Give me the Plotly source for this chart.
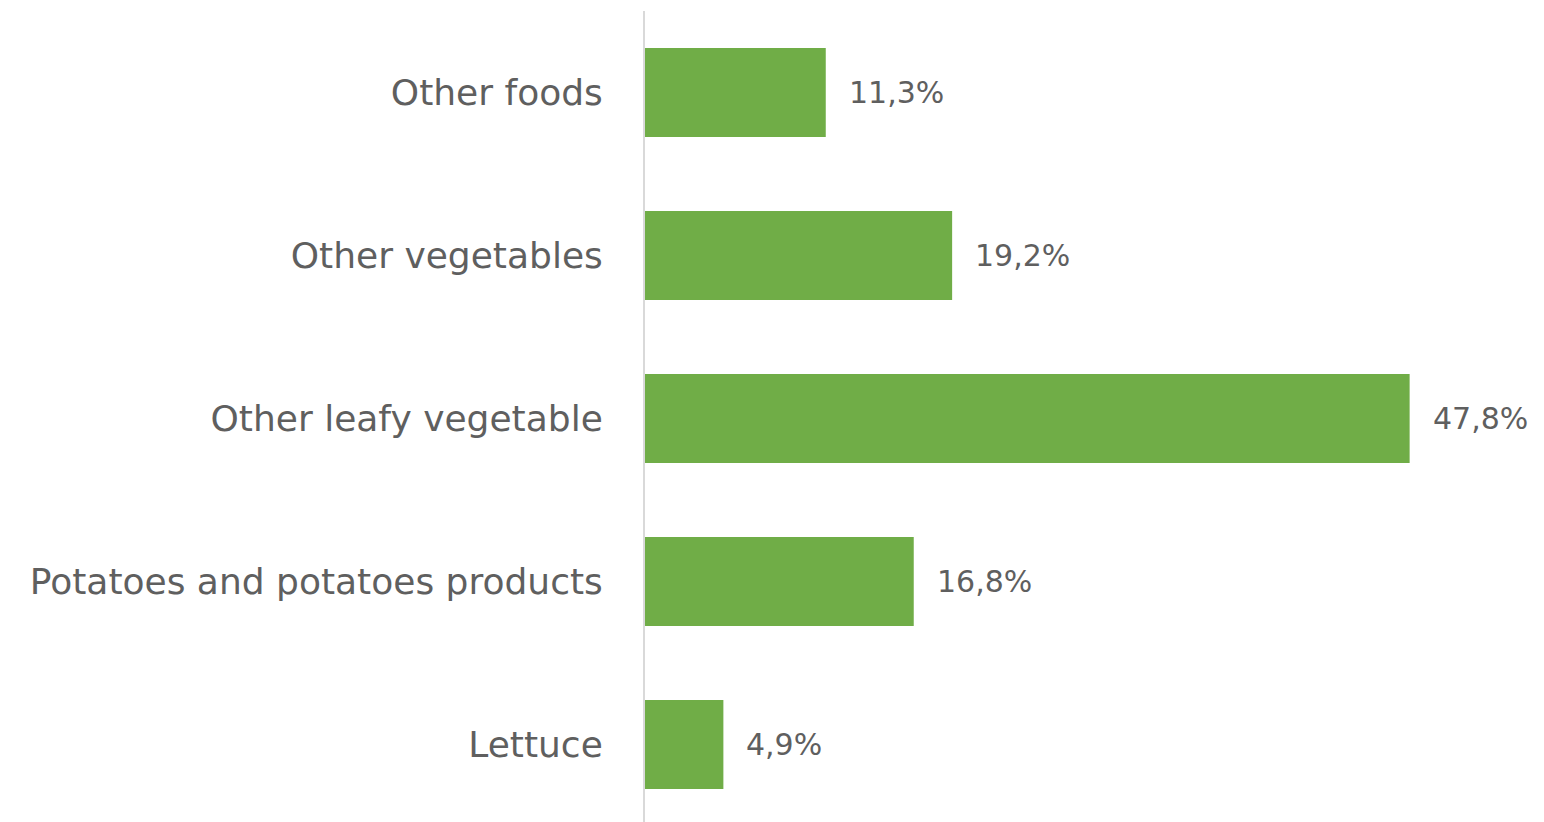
import plotly.graph_objects as go

categories = ["Other foods", "Other vegetables", "Other leafy vegetable",
              "Potatoes and potatoes products", "Lettuce"]
values = [11.3, 19.2, 47.8, 16.8, 4.9]
labels = [f"{v:.1f}".replace(".", ",") + "%" for v in values]

fig = go.Figure()
fig.add_trace(go.Bar(
    x=values, y=categories, orientation="h",
    marker=dict(color="#70AD47", line=dict(width=0)),
    hoverinfo="skip",
))
for c, v, t in zip(categories, values, labels):
    fig.add_annotation(x=v, y=c, text=t, showarrow=False, xanchor="left",
                       xshift=21, font=dict(family="DejaVu Sans", size=30, color="#5f5f5f"))

fig.update_layout(
    width=1544, height=826,
    margin=dict(l=645, r=0, t=11, b=0),
    paper_bgcolor="white", plot_bgcolor="white",
    bargap=0.454, showlegend=False,
    font=dict(family="DejaVu Sans", color="#5f5f5f"),
    xaxis=dict(range=[0, 56.2], showgrid=False, zeroline=False, showticklabels=False,
               showline=False),
    yaxis=dict(autorange="reversed", showgrid=False, zeroline=False,
               showline=True, linecolor="#d9d9d9", linewidth=2,
               ticks="", ticklabelstandoff=33,
               tickfont=dict(family="DejaVu Sans", size=36, color="#5f5f5f")),
)
fig.write_html("out.html", config={"displayModeBar": False},
               post_script="document.body.style.margin='0';document.body.style.overflow='hidden';")
